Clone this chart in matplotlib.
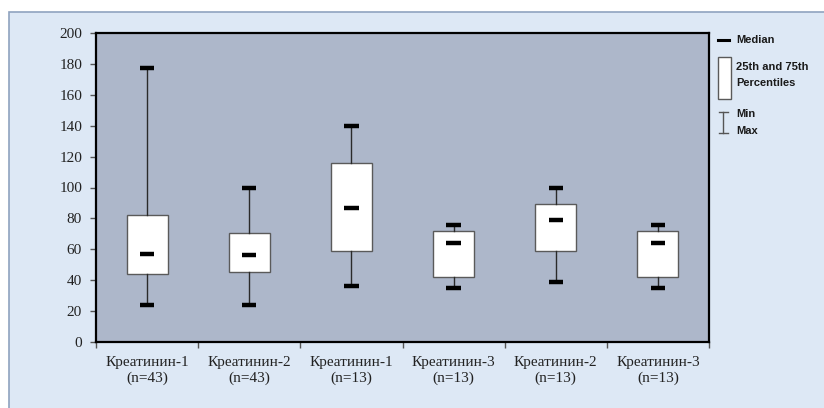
import matplotlib

matplotlib.use("Agg")
import matplotlib.pyplot as plt
from matplotlib.patches import Rectangle
from matplotlib.lines import Line2D

# five-number summaries per group
groups = ["Креатинин-1\n(n=43)", "Креатинин-2\n(n=43)", "Креатинин-1\n(n=13)",
          "Креатинин-3\n(n=13)", "Креатинин-2\n(n=13)", "Креатинин-3\n(n=13)"]
mins = [24, 24, 36, 35, 39, 35]
q1s = [44, 45, 59, 42, 59, 42]
medians = [57, 56, 86.5, 64, 79, 64]
q3s = [82, 70.5, 116, 72, 89, 72]
maxs = [177.5, 100, 140, 75.5, 100, 75.5]

y_ticks = list(range(0, 201, 20))

W, H = 824, 408
PANEL_BG = "#dde8f5"
PANEL_EDGE = "#8fa3bf"
AX_BG = "#adb7ca"

fig = plt.figure(figsize=(W / 100, H / 100), dpi=100)
fig.patch.set_facecolor("white")


def fx(px):
    return px / W


def fy(py):
    return 1 - py / H


# light blue chart area with a thin border
fig.patches.append(Rectangle((fx(9), fy(H + 20)), fx(W + 20 - 9), (H + 20 - 12) / H,
                             transform=fig.transFigure, facecolor=PANEL_BG,
                             edgecolor=PANEL_EDGE, lw=1.2, zorder=-5))

ax = fig.add_axes([fx(96), fy(342), fx(709 - 96), (342 - 33) / H])
ax.set_facecolor(AX_BG)

stats = []
for lbl, lo, a, m, b, hi in zip(groups, mins, q1s, medians, q3s, maxs):
    stats.append({"label": lbl, "whislo": lo, "q1": a, "med": m, "q3": b, "whishi": hi})

pos = list(range(1, len(groups) + 1))
ax.bxp(stats, positions=pos, widths=0.4, showfliers=False, patch_artist=True,
       capwidths=0.14,
       boxprops=dict(facecolor="white", edgecolor="#5a5a5a", lw=1.0),
       whiskerprops=dict(color="#2a2a2a", lw=1.0),
       capprops=dict(color="black", lw=3.2, solid_capstyle="butt"),
       medianprops=dict(linestyle="none"))
ax.hlines(medians, [p - 0.07 for p in pos], [p + 0.07 for p in pos],
          color="black", lw=3.2, zorder=5)

ax.set_xlim(0.5, len(groups) + 0.5)
ax.set_ylim(0, 200)
ax.set_yticks(y_ticks)

# tick marks at category boundaries, labels at centres
ax.set_xticks([p + 0.5 for p in [0] + pos])
ax.set_xticklabels([])
ax.set_xticks(pos, minor=True)
ax.set_xticklabels(groups, minor=True)
ax.tick_params(axis="x", which="major", length=4, width=1, color="#555555", direction="out")
ax.tick_params(axis="x", which="minor", length=0, pad=10)
ax.tick_params(axis="y", length=4, width=1, color="#555555", pad=6)

for lab in ax.get_xticklabels(minor=True) + ax.get_yticklabels():
    lab.set_fontfamily("Liberation Serif")
    lab.set_fontsize(11)
    lab.set_color("#222222")
for lab in ax.get_xticklabels(minor=True):
    lab.set_linespacing(1.25)

for sp in ax.spines.values():
    sp.set_color("black")
    sp.set_linewidth(1.6)

# legend key on the right
lkw = dict(fontfamily="Liberation Sans", fontweight="bold", fontsize=8, color="#1a1a1a",
           transform=fig.transFigure, va="center", ha="left")
fig.lines.append(Line2D([fx(718), fx(729)], [fy(40), fy(40)], transform=fig.transFigure,
                        color="black", lw=2.2))
fig.text(fx(736), fy(40), "Median", **lkw)

fig.patches.append(Rectangle((fx(717.5), fy(99)), fx(13), (99 - 57) / H,
                             transform=fig.transFigure, facecolor="white",
                             edgecolor="#5a5a5a", lw=1.0))
fig.text(fx(736), fy(67), "25th and 75th", **lkw)
fig.text(fx(736), fy(83), "Percentiles", **lkw)

for yy in (112, 133):
    fig.lines.append(Line2D([fx(718.5), fx(728)], [fy(yy), fy(yy)], transform=fig.transFigure,
                            color="#555555", lw=1.0))
fig.lines.append(Line2D([fx(723.3), fx(723.3)], [fy(112), fy(133)], transform=fig.transFigure,
                        color="#555555", lw=1.0))
fig.text(fx(736), fy(114), "Min", **lkw)
fig.text(fx(736), fy(131), "Max", **lkw)

fig.savefig("out.png", dpi=100, facecolor="white")
